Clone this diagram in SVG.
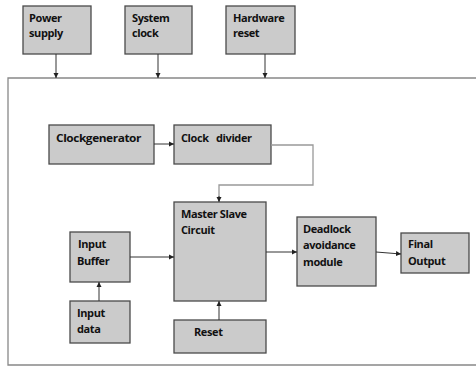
<svg xmlns="http://www.w3.org/2000/svg" width="476" height="367" viewBox="0 0 476 367">
<style>
.box{fill:#cbcbcb;stroke:#4a4a4a;stroke-width:1.3}
.t{font-family:"Open Sans","Liberation Sans",sans-serif;font-weight:bold;font-size:11px;fill:#111;letter-spacing:-0.4px}
.c{fill:none;stroke:#333;stroke-width:1}
.g{fill:none;stroke:#999;stroke-width:1.3}
</style>
<defs>
<marker id="a" markerWidth="6" markerHeight="6" refX="5" refY="3" orient="auto" markerUnits="userSpaceOnUse">
<path d="M0,0.5 L5,3 L0,5.5 z" fill="#222"/>
</marker>
</defs>
<rect x="0" y="0" width="476" height="367" fill="#fff"/>
<g id="frame"><path d="M476,78 H8 V365 H476" fill="none" stroke="#888" stroke-width="1.3"/></g>
<g id="power-supply"><rect class="box" x="23" y="6" width="68" height="48"/><text class="t" x="29" y="22">Power</text><text class="t" x="29" y="37">supply</text></g>
<g id="system-clock"><rect class="box" x="125" y="6" width="67" height="48"/><text class="t" x="132" y="22">System</text><text class="t" x="132" y="37">clock</text></g>
<g id="hardware-reset"><rect class="box" x="226" y="6" width="69" height="48"/><text class="t" x="233" y="22">Hardware</text><text class="t" x="233" y="37">reset</text></g>
<g id="clock-generator"><rect class="box" x="49" y="125" width="105" height="39"/><text class="t" x="56" y="142" textLength="85" lengthAdjust="spacingAndGlyphs">Clockgenerator</text></g>
<g id="clock-divider"><rect class="box" x="174" y="125" width="97" height="39"/><text class="t" x="181" y="142" xml:space="preserve">Clock   divider</text></g>
<g id="master-slave"><rect class="box" x="174" y="202" width="92" height="99"/><text class="t" x="181" y="218">Master Slave</text><text class="t" x="181" y="234">Circuit</text></g>
<g id="input-buffer"><rect class="box" x="70" y="232" width="60" height="50"/><text class="t" x="78" y="248">Input</text><text class="t" x="77" y="265">Buffer</text></g>
<g id="input-data"><rect class="box" x="70" y="301" width="60" height="42"/><text class="t" x="77" y="317">Input</text><text class="t" x="77" y="333">data</text></g>
<g id="reset"><rect class="box" x="174" y="320" width="92" height="33"/><text class="t" x="194" y="336">Reset</text></g>
<g id="deadlock"><rect class="box" x="297" y="217" width="79" height="69"/><text class="t" x="303" y="233">Deadlock</text><text class="t" x="303" y="249">avoidance</text><text class="t" x="303" y="266">module</text></g>
<g id="final-output"><rect class="box" x="401" y="233" width="68" height="40"/><text class="t" x="408" y="248">Final</text><text class="t" x="408" y="265">Output</text></g>
<g id="connectors">
<path class="c" d="M56,54 V78" marker-end="url(#a)"/>
<path class="c" d="M158,54 V78" marker-end="url(#a)"/>
<path class="c" d="M265,54 V78" marker-end="url(#a)"/>
<path class="c" d="M154,144 H174" marker-end="url(#a)"/>
<path class="g" d="M271,145 H313 V185 H219 V202"/>
<path class="c" d="M219,196 V202" marker-end="url(#a)"/>
<path class="c" d="M130,257 H174" marker-end="url(#a)"/>
<path class="c" d="M99,301 V282" marker-end="url(#a)"/>
<path class="c" d="M219,320 V301" marker-end="url(#a)"/>
<path class="c" d="M266,252 H297" marker-end="url(#a)"/>
<path class="c" d="M376,252 L401,254" marker-end="url(#a)"/>
</g>
</svg>
